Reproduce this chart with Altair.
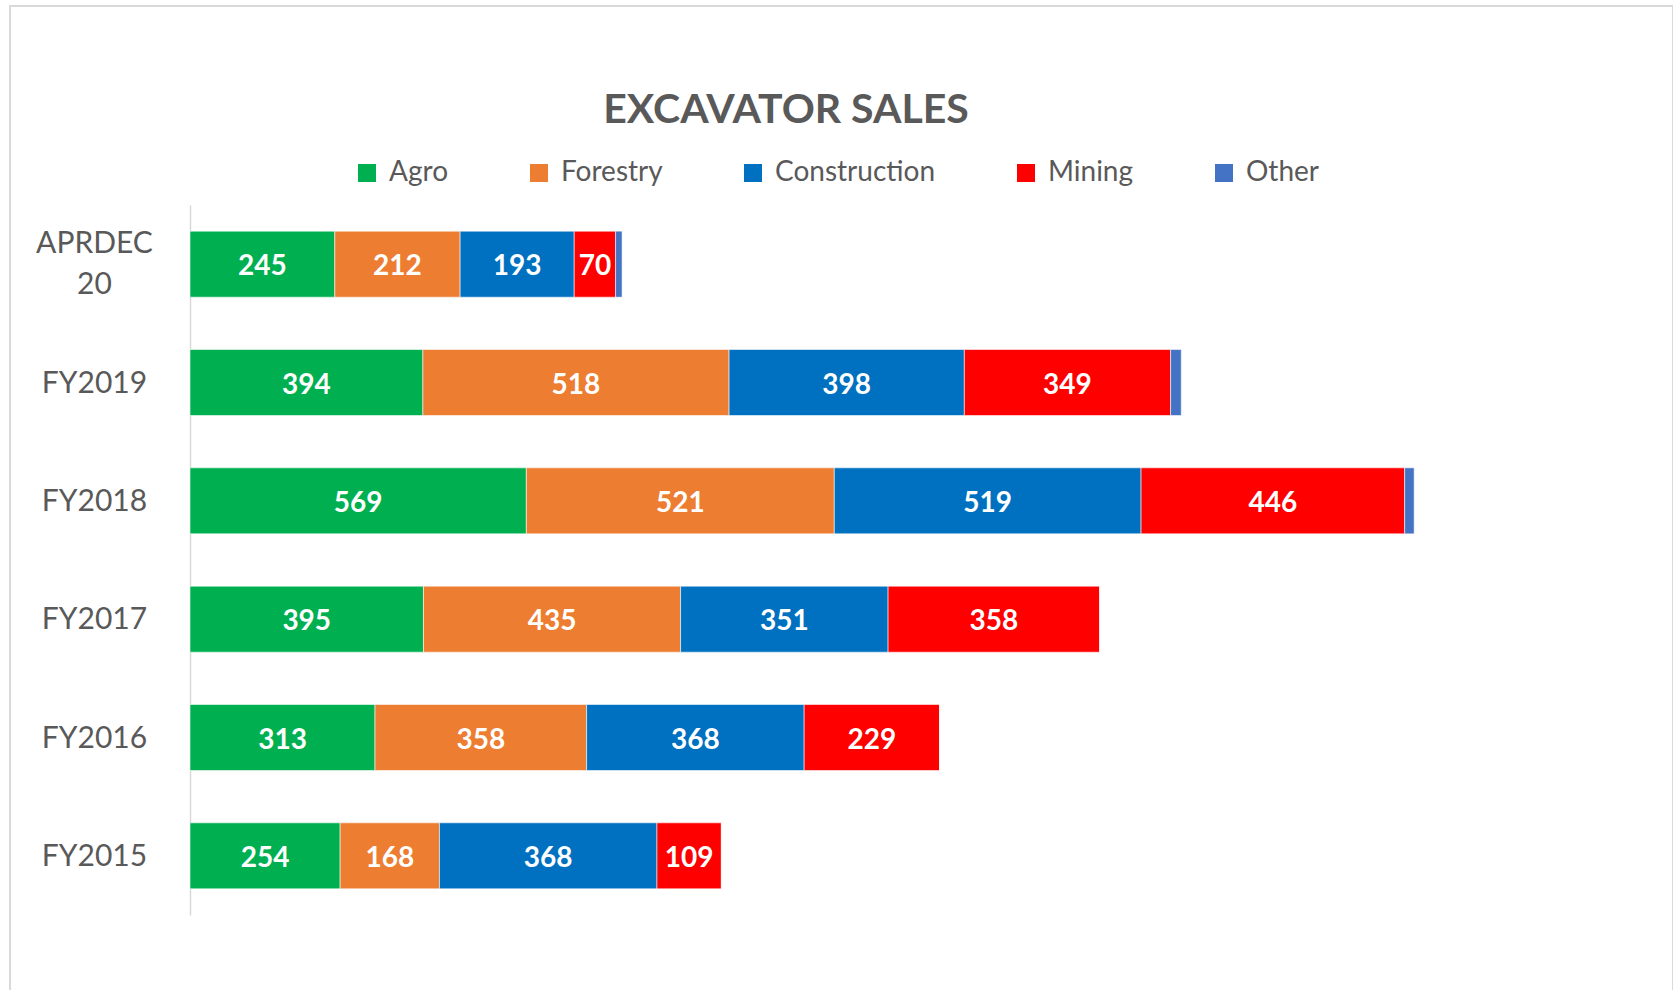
import altair as alt
import pandas as pd

categories = ["APRDEC 20", "FY2019", "FY2018", "FY2017", "FY2016", "FY2015"]
series = ["Agro", "Forestry", "Construction", "Mining", "Other"]
colors = ["#00B050", "#ED7D31", "#0070C0", "#FF0000", "#4472C4"]
agro = [245, 394, 569, 395, 313, 254]
forestry = [212, 518, 521, 435, 358, 168]
construction = [193, 398, 519, 351, 368, 368]
mining = [70, 349, 446, 358, 229, 109]
other = [11, 18, 16, 0, 0, 0]

rows = []
for i, c in enumerate(categories):
    for j, (s, vals) in enumerate(zip(series, [agro, forestry, construction, mining, other])):
        rows.append({"period": c, "segment": s, "order": j, "sales": vals[i]})
df = pd.DataFrame(rows)

GRAY = "#595959"
FONT = "Lato"

base = alt.Chart(df).transform_stack(
    stack="sales", groupby=["period"], sort=[alt.SortField("order", order="ascending")], as_=["x0", "x1"]
).transform_calculate(mid="(datum.x0 + datum.x1) / 2")

xscale = alt.Scale(domain=[0, 2470], nice=False, zero=True)
yaxis = alt.Axis(
    title=None, domainColor="#D9D9D9", domainWidth=1.5, ticks=False, grid=False,
    labelFont=FONT, labelFontSize=30, labelColor=GRAY, labelAlign="center",
    labelPadding=96, labelExpr="split(datum.label, ' ')", labelLineHeight=41,
    labelBaseline="middle",
    labelOffset={"condition": {"test": "datum.value == 'APRDEC 20'", "value": -20}, "value": 1},
)
yenc = alt.Y("period:N", sort=categories,
             scale=alt.Scale(paddingInner=0.442, paddingOuter=0.221), axis=yaxis)

bars = base.mark_bar(stroke="white", strokeWidth=0.8, strokeOpacity=0.7).encode(
    x=alt.X("x0:Q", scale=xscale, axis=None),
    x2="x1:Q",
    y=yenc,
    color=alt.Color(
        "segment:N",
        scale=alt.Scale(domain=series, range=colors),
        sort=series,
        legend=alt.Legend(
            title=None, orient="none", legendX=163, legendY=-46, direction="horizontal",
            symbolType="square", symbolSize=324, symbolStrokeWidth=0,
            labelFont=FONT, labelFontSize=28, labelColor=GRAY, labelLimit=400,
            columnPadding=76, labelOffset=8,
        ),
    ),
)

labels = base.transform_filter("datum.segment != 'Other'").mark_text(
    font=FONT, fontSize=28, fontWeight="bold", color="white", baseline="middle", align="center", dy=3
).encode(
    x=alt.X("mid:Q", scale=xscale, axis=None),
    y=yenc,
    text="sales:Q",
)

frame = alt.Chart(pd.DataFrame({"k": [0]})).mark_rect(
    filled=False, stroke="#D9D9D9", strokeWidth=2
).encode(
    x=alt.value(-180), x2=alt.value(1483), y=alt.value(-199), y2=alt.value(800)
)

chart = alt.layer(frame, bars, labels).properties(
    width=1460,
    height=710,
    padding={"left": 190, "top": 205, "right": 23, "bottom": 75},
    autosize=alt.AutoSizeParams(type="none"),
    title=alt.TitleParams(
        "EXCAVATOR SALES", font=FONT, fontSize=41, fontWeight="bold", color=GRAY,
        anchor="middle", frame="group", dx=-134, dy=159, offset=0, baseline="alphabetic",
    ),
).configure(background="white").configure_view(strokeWidth=0, stroke="transparent")

chart.save("out.html", embed_options={"renderer": "svg", "actions": False})
